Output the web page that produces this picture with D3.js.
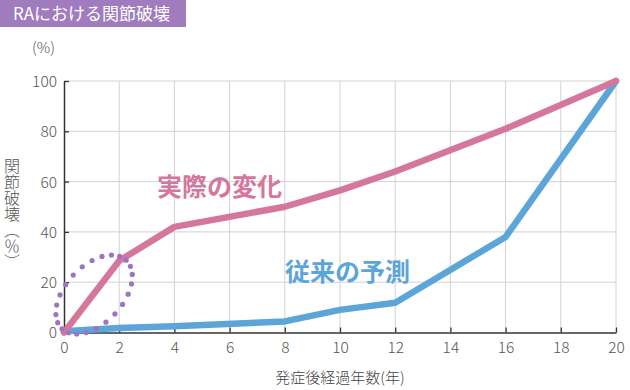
<!DOCTYPE html>
<html><head><meta charset="utf-8">
<script src="https://cdn.jsdelivr.net/npm/d3@7"></script>
<style>
body{margin:0;background:#fff;}
svg{display:block;font-family:"Noto Sans CJK JP","Noto Sans",sans-serif;}
</style></head>
<body><svg id="c" width="630" height="390"></svg>
<script>
const title = "RAにおける関節破壊";
const xTicks = [0,2,4,6,8,10,12,14,16,18,20];
const yTicks = [0,20,40,60,80,100];
const actualYears = [0,2,4,8,10,12,16,20];
const actualValues = [0,28.5,42,50,56.5,64,81,100];
const predYears = [0,2,4,8,10,12,16,20];
const predValues = [0.5,1.8,2.5,4.4,9,11.8,38,100];
const actualLabel = "実際の変化";
const predLabel = "従来の予測";
const xTitle = "発症後経過年数(年)";
const yTitle = "関節破壊（％）";
const unitLabel = "(%)";
// dotted ellipse annotation: center in data units
const ellipseCenter = [1.09, 15.1];

const svg = d3.select("#c");
const x = d3.scaleLinear().domain([0,20]).range([64,616]);
const y = d3.scaleLinear().domain([0,100]).range([332.5,81]);

// title box
svg.append("rect").attr("x",0).attr("y",0).attr("width",186).attr("height",27).attr("fill","#a07cbf");
svg.append("text").attr("x",13).attr("y",20).attr("fill","#fff").attr("font-size",17).text(title);

// grid
const g = svg.append("g");
g.selectAll("line.vx").data(xTicks.filter(d=>d>0)).join("line")
  .attr("x1",d=>x(d)).attr("x2",d=>x(d)).attr("y1",y(100)).attr("y2",y(0))
  .attr("stroke","#d2d2d2").attr("stroke-width",1);
g.selectAll("line.hy").data(yTicks.filter(d=>d>0)).join("line")
  .attr("x1",x(0)).attr("x2",x(20)).attr("y1",d=>y(d)).attr("y2",d=>y(d))
  .attr("stroke","#d2d2d2").attr("stroke-width",1);

// axes
const xa = svg.append("g").attr("transform",`translate(0,${y(0)})`)
  .call(d3.axisBottom(x).tickValues(xTicks).tickSizeInner(-5).tickSizeOuter(0).tickPadding(9));
const ya = svg.append("g").attr("transform",`translate(${x(0)},0)`)
  .call(d3.axisLeft(y).tickValues(yTicks).tickSizeInner(-5).tickSizeOuter(0).tickPadding(7));
[xa,ya].forEach(a=>{
  a.select(".domain").attr("stroke","#333").attr("stroke-width",1.5);
  a.selectAll(".tick line").attr("stroke","#333").attr("stroke-width",1.3);
  a.selectAll(".tick text").attr("fill","#555").attr("font-size",15.5).attr("font-family","'Noto Sans CJK JP',sans-serif").attr("font-weight",300);
});
ya.selectAll(".tick text").attr("dy","0.35em");

// lines
const line = d3.line().x(d=>x(d[0])).y(d=>y(d[1]));
svg.append("path").datum(predYears.map((d,i)=>[d,predValues[i]]))
  .attr("d",line).attr("fill","none").attr("stroke","#5ca5d8").attr("stroke-width",6.5)
  .attr("stroke-linejoin","round").attr("stroke-linecap","round");
svg.append("path").datum(actualYears.map((d,i)=>[d,actualValues[i]]))
  .attr("d",line).attr("fill","none").attr("stroke","#d5779c").attr("stroke-width",6.5)
  .attr("stroke-linejoin","round").attr("stroke-linecap","round");

// dotted ellipse
const cx = x(ellipseCenter[0]), cy = y(ellipseCenter[1]);
const nDots = 24, a = 47, b = 28.5, rot = -47*Math.PI/180;
const dots = d3.range(nDots).map(i=>{
  const t = 2*Math.PI*i/nDots;
  const ex = a*Math.cos(t), ey = b*Math.sin(t);
  return [cx + ex*Math.cos(rot) - ey*Math.sin(rot), cy + ex*Math.sin(rot) + ey*Math.cos(rot)];
});
svg.selectAll("circle.dot").data(dots).join("circle")
  .attr("cx",d=>d[0]).attr("cy",d=>d[1]).attr("r",2.6).attr("fill","#9c74c2");

// labels
svg.append("text").attr("x",157).attr("y",196).attr("fill","#d5779c").attr("font-size",25).attr("font-weight",700).text(actualLabel);
svg.append("text").attr("x",285).attr("y",281).attr("fill","#5ca5d8").attr("font-size",25).attr("font-weight",700).text(predLabel);

svg.append("text").attr("x",32).attr("y",53).attr("fill","#555").attr("font-size",15).attr("font-weight",300).text(unitLabel);
svg.append("text").attr("x",340).attr("y",383).attr("text-anchor","middle").attr("fill","#444").attr("font-size",15).attr("font-weight",300).text(xTitle);
svg.append("text").attr("transform","translate(12,158)").attr("fill","#555").attr("font-size",16).attr("font-weight",300)
  .style("writing-mode","vertical-rl").text(yTitle);
</script></body></html>
